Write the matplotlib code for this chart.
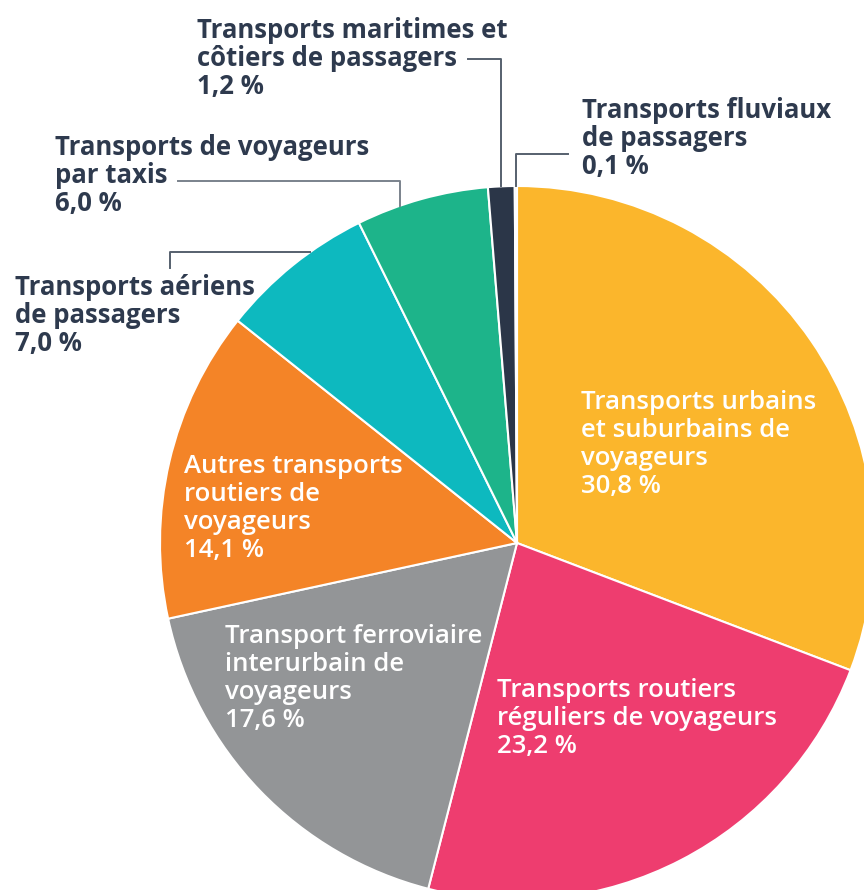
import matplotlib
matplotlib.use("Agg")
import matplotlib.pyplot as plt
import numpy as np

# Répartition (en %) par activité
labels = [
    "Transports urbains\net suburbains de\nvoyageurs",
    "Transports routiers\nréguliers de voyageurs",
    "Transport ferroviaire\ninterurbain de\nvoyageurs",
    "Autres transports\nroutiers de\nvoyageurs",
    "Transports aériens\nde passagers",
    "Transports de voyageurs\npar taxis",
    "Transports maritimes et\ncôtiers de passagers",
    "Transports fluviaux\nde passagers",
]
values = [30.8, 23.2, 17.6, 14.1, 7.0, 6.0, 1.2, 0.1]
colors = ["#FBB62C", "#EE3D6F", "#939597", "#F48427",
          "#0DB9BF", "#1DB48A", "#2B3648", "#E4D9D9"]

W, H = 864, 890
CX, CY, R = 517, 543, 357      # pixel geometry of the pie
TEXT = "#2E3A4E"
LINE = "#56606E"
FONT = "Open Sans"
FS = 18.5
STEP = 28

fig = plt.figure(figsize=(W / 100, H / 100), dpi=100)
ax = fig.add_axes([0, 0, 1, 1])

wedges, _ = ax.pie(values, colors=colors, startangle=90, counterclock=False,
                   center=(CX, H - CY), radius=R,
                   wedgeprops=dict(edgecolor="white", linewidth=1.5))
ax.set_xlim(0, W)
ax.set_ylim(0, H)
ax.set_aspect("equal")
ax.axis("off")


def write(x, y0, text, color, weight):
    # one text per line, baselines given in pixels from the top
    for i, line in enumerate(text.split("\n")):
        ax.text(x, H - (y0 + i * STEP), line, color=color, fontsize=FS,
                fontweight=weight, family=FONT, va="baseline", ha="left")


def anchor(idx, frac):
    # point on the rim, frac of the way (clockwise) through wedge idx
    start = sum(values[:idx])
    a = np.deg2rad(90 - 3.6 * (start + frac * values[idx]))
    return CX + R * np.cos(a), CY - R * np.sin(a)


def pct(v):
    return f"{v:.1f}".replace(".", ",") + " %"


# labels inside the slices
inside = {0: (581, 409), 1: (497, 697), 2: (225, 643), 3: (184, 473)}
for i, (x, y) in inside.items():
    write(x, y, labels[i] + "\n" + pct(values[i]), "white", "semibold")

# labels outside with leader lines
outside = {4: (15, 295), 5: (55, 155), 6: (197, 38), 7: (582, 118)}
for i, (x, y) in outside.items():
    write(x, y, labels[i] + "\n" + pct(values[i]), TEXT, "bold")

# maritimes
ax_, ay_ = anchor(6, 0.5)
ax.plot([468, ax_, ax_], [H - 59, H - 59, H - ay_], color=LINE, lw=1.4)
# fluviaux
ax_, ay_ = anchor(7, 0.5)
ax.plot([568, ax_, ax_], [H - 154, H - 154, H - ay_], color=LINE, lw=1.4)
# taxis
ax_, ay_ = anchor(5, 0.33)
ax.plot([178, ax_, ax_], [H - 181, H - 181, H - ay_], color="#7A828C", lw=1.4)
# aériens
ax_, ay_ = anchor(4, 0.64)
ax.plot([170, 170, ax_], [H - 268, H - ay_, H - ay_], color=LINE, lw=1.4)

fig.savefig("out.png", dpi=100)
